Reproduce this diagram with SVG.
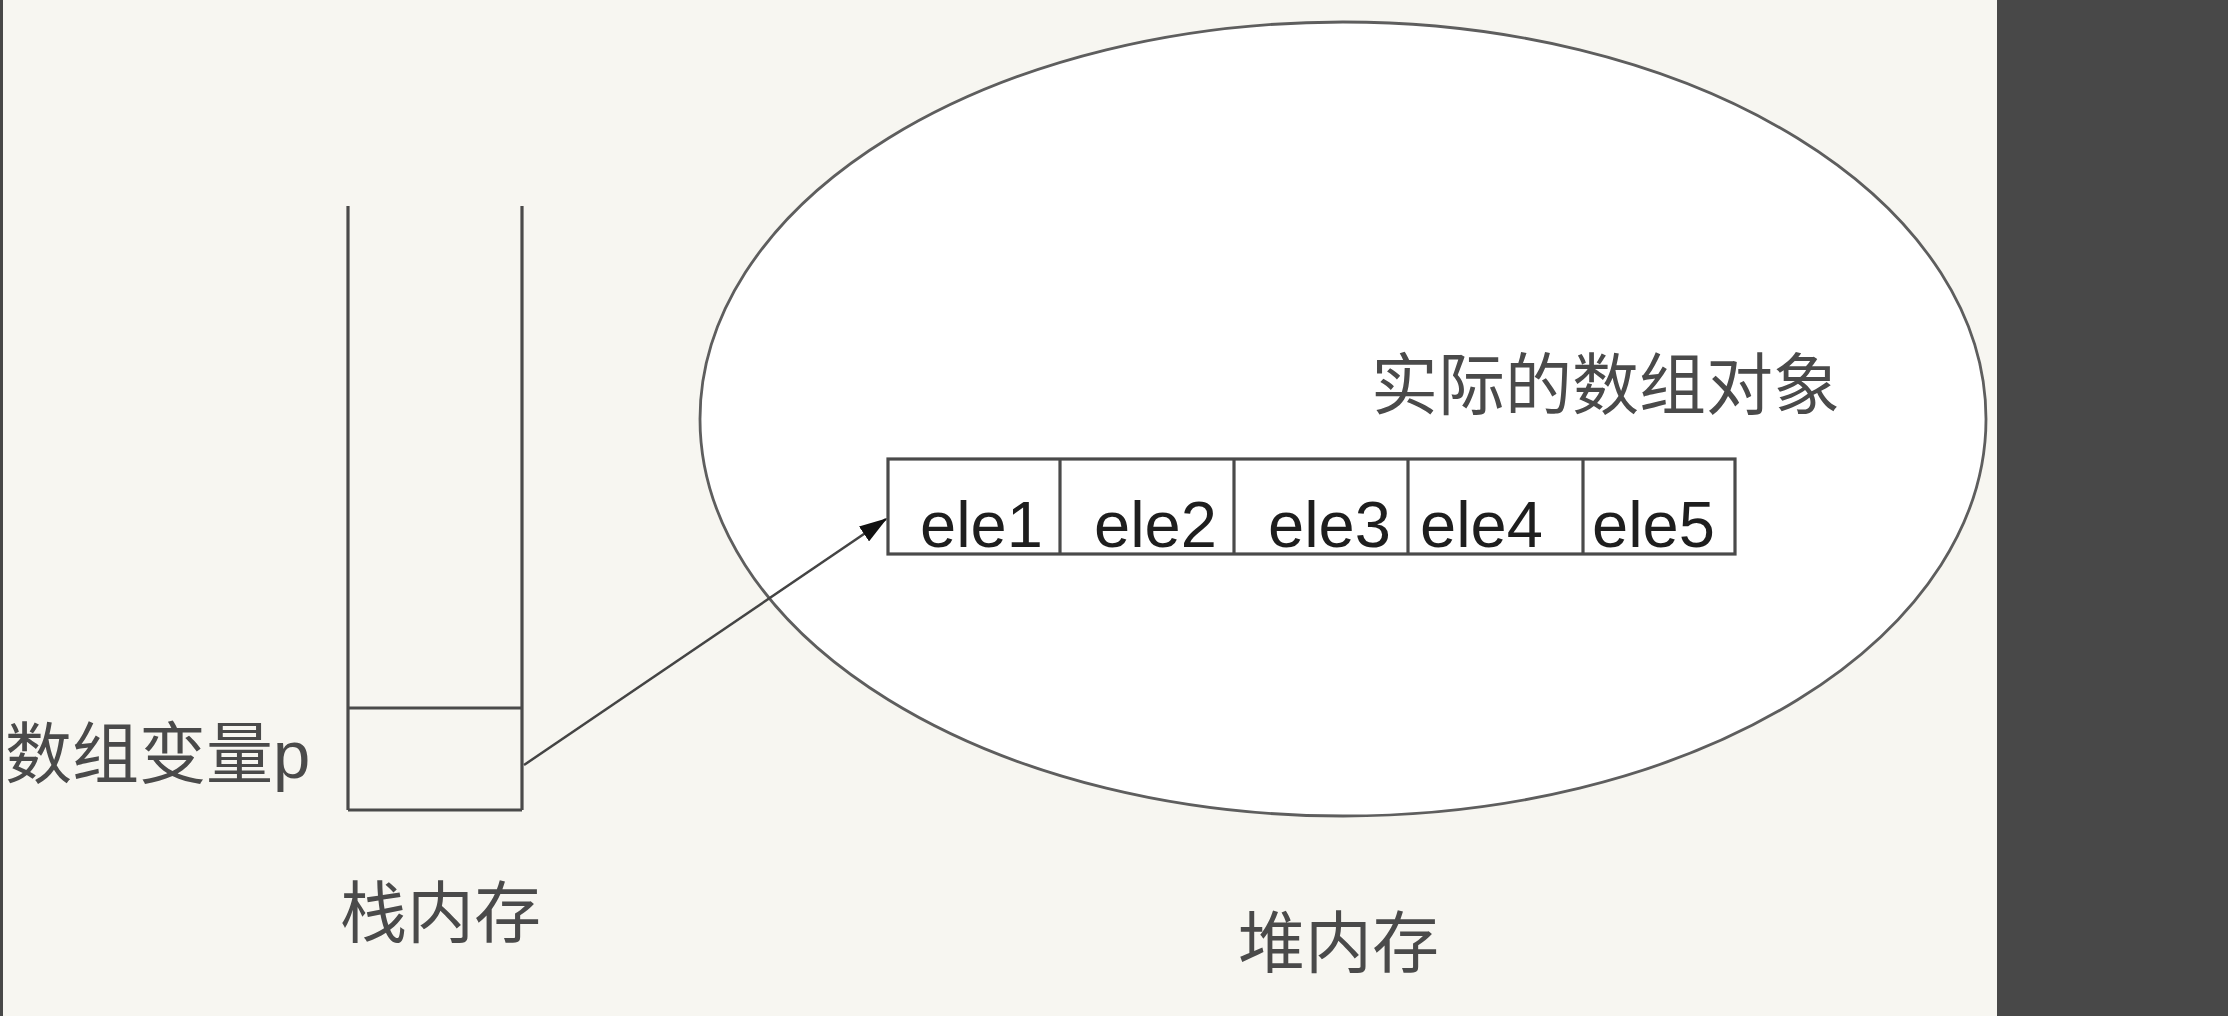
<svg xmlns="http://www.w3.org/2000/svg" width="2228" height="1016" viewBox="0 0 2228 1016">
  <style>
    .ln { fill: none; stroke: #4a4a4a; stroke-width: 3.2; }
    .cell { fill: none; stroke: #4a4a4a; stroke-width: 3.2; }
    .cjk { font-family: "Liberation Sans", "Noto Sans CJK SC", sans-serif; font-size: 67px; fill: #4a4a4a; }
    .ele { font-family: "Liberation Sans", Arial, sans-serif; font-size: 65px; fill: #1e1e1e; }
  </style>
  <defs>
    <marker id="arrowBig" viewBox="0 0 10 10" refX="9.5" refY="5" markerWidth="28" markerHeight="18" markerUnits="userSpaceOnUse" orient="auto" preserveAspectRatio="none">
      <path d="M0,0 L10,5 L0,10 z" fill="#111"/>
    </marker>
  </defs>

  <!-- background -->
  <rect x="0" y="0" width="2228" height="1016" fill="#f7f6f1"/>
  <rect x="0" y="0" width="3" height="1016" fill="#484848"/>
  <rect x="1997" y="0" width="231" height="1016" fill="#484848"/>

  <g id="heap">
    <ellipse cx="1343" cy="419" rx="643" ry="397" fill="#ffffff" stroke="#5e5e5e" stroke-width="2.8"/>
    <text class="cjk" x="1371" y="409">实际的数组对象</text>
  </g>

  <g id="stack">
    <line class="ln" x1="348" y1="206" x2="348" y2="810"/>
    <line class="ln" x1="522" y1="206" x2="522" y2="810"/>
    <line class="ln" x1="348" y1="810" x2="522" y2="810"/>
    <line class="ln" x1="348" y1="708" x2="522" y2="708"/>
  </g>

  <g id="var-p">
    <text class="cjk" x="5" y="778">数组变量<tspan font-family="Liberation Sans, sans-serif">p</tspan></text>
  </g>

  <g id="stack-label">
    <text class="cjk" x="340" y="937">栈内存</text>
  </g>

  <g id="heap-label">
    <text class="cjk" x="1238" y="967">堆内存</text>
  </g>

  <g id="array">
    <rect class="cell" x="888" y="459" width="847" height="95"/>
    <line class="cell" x1="1060" y1="459" x2="1060" y2="554"/>
    <line class="cell" x1="1234" y1="459" x2="1234" y2="554"/>
    <line class="cell" x1="1408" y1="459" x2="1408" y2="554"/>
    <line class="cell" x1="1583" y1="459" x2="1583" y2="554"/>
    <text class="ele" x="920" y="547">ele1</text>
    <text class="ele" x="1094" y="547">ele2</text>
    <text class="ele" x="1268" y="547">ele3</text>
    <text class="ele" x="1420" y="547">ele4</text>
    <text class="ele" x="1592" y="547">ele5</text>
  </g>

  <g id="connectors">
    <line x1="524" y1="765" x2="886" y2="519" stroke="#444" stroke-width="2.5" marker-end="url(#arrowBig)"/>
  </g>
</svg>
